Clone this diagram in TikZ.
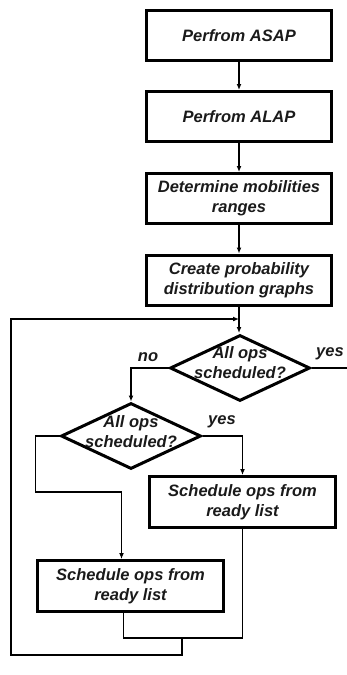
\documentclass[tikz,border=0pt]{standalone}
\usepackage{fontspec}
\setmainfont{Liberation Sans}
\usetikzlibrary{arrows.meta,shapes.geometric}
\definecolor{fdsInk}{HTML}{1A1A1A}
\definecolor{fdsLine}{HTML}{000000}
\tikzset{
  fdsBox/.style={
    draw=fdsLine,
    line width=3pt,
    align=center,
    minimum width=185pt,
    minimum height=50pt,
    inner sep=2pt,
    text=fdsInk,
    font=\fontsize{16.5}{20}\selectfont\bfseries\itshape
  },
  fdsDecision/.style={
    draw=fdsLine,
    diamond,
    line width=3pt,
    minimum width=140pt,
    minimum height=66pt,
    inner sep=0pt
  },
  fdsText/.style={
    align=center,
    text=fdsInk,
    inner sep=0pt,
    font=\fontsize{16.5}{20}\selectfont\bfseries\itshape
  },
  fdsArrow/.style={
    -{Latex[length=6pt,width=5pt]},
    line width=1.2pt,
    draw=fdsLine
  },
  fdsLine/.style={
    line width=1.2pt,
    draw=fdsLine
  }
}

\begin{document}
\begin{tikzpicture}[x=1pt,y=-1pt]
\useasboundingbox (0,0) rectangle (347,675);

% Main chain.
\node[fdsBox] (asap) at (239,35.5) {Perfrom ASAP};
\node[fdsBox] (alap) at (239,116.5) {Perfrom ALAP};
\node[fdsBox] (mob) at (239,198.5) {Determine mobilities\\ranges};
\node[fdsBox] (pdg) at (239,280) {Create probability\\distribution graphs};

\draw[fdsArrow] (asap) -- (alap);
\draw[fdsArrow] (alap) -- (mob);
\draw[fdsArrow] (mob) -- (pdg);
\draw[fdsArrow] (pdg) -- (239,333) coordinate (dec1top);

% Decisions.
\node[fdsDecision, label={[fdsText, yshift=5pt]center:All ops\\scheduled?}] (dec1) at (240,368) {};
\node[fdsDecision, label={[fdsText, yshift=4pt]center:All ops\\scheduled?}] (dec2) at (131,436) {};

\node[fdsText] (no1) at (148,357) {no};
\node[fdsText] (yes1) at (330,354) {yes};
\node[fdsText] (yes2) at (222,422) {yes};

% Schedule boxes.
\node[fdsBox, minimum width=186pt, minimum height=51pt] (rsched) at (242.5,502) {Schedule ops from\\ready list};
\node[fdsBox, minimum width=186pt, minimum height=51pt] (lsched) at (130.5,586) {Schedule ops from\\ready list};

\coordinate (yesEnd) at (347,368);
\coordinate (merge) at (239,319);
\coordinate (join) at (182,638);
\coordinate (loopTL) at (11,319);

\draw[fdsLine] (dec1.east) -- (yesEnd);
\draw[fdsArrow] (dec1.west) -| (dec2.north);
\draw[fdsArrow] (dec2.east) -| (rsched.north);
\draw[fdsArrow] (dec2.west) -- ++(-24,0) -- ++(0,56) -| ([xshift=-9pt]lsched.north);

% Loop back.
\draw[fdsLine] ([xshift=-7pt]lsched.south) |- (join) -| (rsched.south);
\draw[fdsArrow] (join) -- ++(0,17) -| (loopTL) -- (merge);

\end{tikzpicture}
\end{document}
